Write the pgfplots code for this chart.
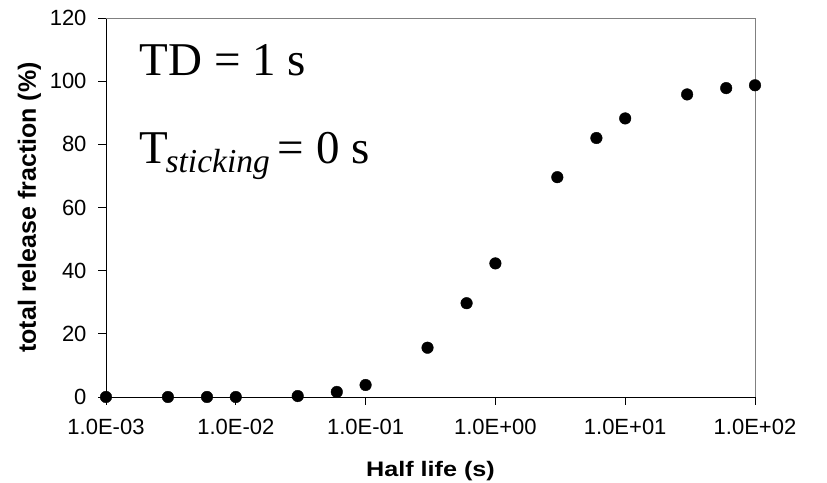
\documentclass[border=0pt]{standalone}
\usepackage{fontspec}
\setmainfont{Liberation Sans}
\newfontfamily\seriffont{Liberation Serif}
\usepackage{pgfplots}
\pgfplotsset{compat=1.18}
\begin{document}
\begin{tikzpicture}
\begin{axis}[
  name=ax,
  scale only axis,
  width=649pt, height=379pt,
  xmode=log,
  xmin=1e-3, xmax=1e2,
  ymin=0, ymax=120,
  axis lines=left,
  axis line style={-, black, line width=0.8pt},
  xtick={1e-3,1e-2,1e-1,1e0,1e1,1e2},
  xticklabels={1.0E-03,1.0E-02,1.0E-01,1.0E+00,1.0E+01,1.0E+02},
  ytick={0,20,40,60,80,100,120},
  xminorticks=false,
  tick align=outside,
  major tick length=8pt,
  tick style={black, line width=0.8pt},
  /pgf/number format/assume math mode=true,
  ticklabel style={font=\fontsize{22}{24}\selectfont, color=black},
  xticklabel style={yshift=-11pt},
  yticklabel style={xshift=-8pt},
  xlabel={\scalebox{1.2}[1]{\textbf{Half life (s)}}},
  ylabel={\textbf{total release fraction (\%)}},
  xlabel style={font=\fontsize{21}{24}\selectfont, at={(axis description cs:0.5,-0.21)}, anchor=base},
  ylabel style={font=\fontsize{25}{28}\selectfont, at={(axis description cs:-0.108,0.5)}, anchor=base, rotate=0},
  clip=false,
]
\addplot[only marks, mark=*, mark size=5.8pt, black] coordinates {
  (1e-3,0) (3e-3,0) (6e-3,0) (1e-2,0) (3e-2,0.3) (6e-2,1.6) (1e-1,3.8)
  (3e-1,15.6) (6e-1,29.7) (1,42.3) (3,69.6) (6,82.0) (10,88.2)
  (30,95.8) (60,97.8) (100,98.7)
};
\draw[gray, line width=0.8pt] (rel axis cs:0,1) -- (rel axis cs:1,1) -- (rel axis cs:1,0);
\node[anchor=base west, inner sep=0pt, font=\seriffont\fontsize{47}{50}\selectfont]
  at (rel axis cs:0.052,0.847) {TD = 1 s};
\node[anchor=base west, inner sep=0pt, font=\seriffont\fontsize{47}{50}\selectfont]
  at (rel axis cs:0.052,0.617) {T\kern-3pt\raisebox{-9pt}{\fontsize{33.5}{35}\selectfont\itshape sticking}\kern8pt= 0 s};
\end{axis}
\pgfresetboundingbox
\path ([shift={(-106pt,-86pt)}]ax.south west) rectangle ([shift={(72pt,18pt)}]ax.north east);
\end{tikzpicture}
\end{document}
